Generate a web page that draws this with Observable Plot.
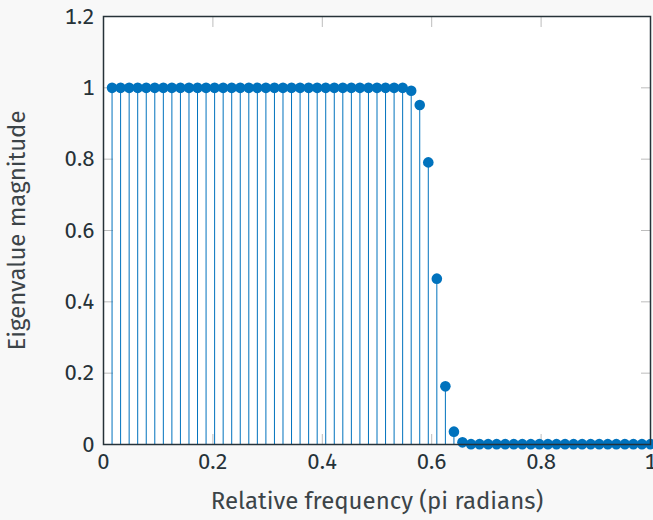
<!DOCTYPE html>
<html>
<head>
<meta charset="utf-8">
<script src="https://cdn.jsdelivr.net/npm/d3@7"></script>
<script src="https://cdn.jsdelivr.net/npm/@observablehq/plot@0.6"></script>
<style>
  html, body { margin: 0; padding: 0; background: #f8f8f8; }
</style>
</head>
<body>
<div id="chart"></div>
<script>
// Relative frequency (pi radians), bins 1..64 of 64
const frequency = [
  0.015625, 0.03125, 0.046875, 0.0625, 0.078125, 0.09375, 0.109375, 0.125,
  0.140625, 0.15625, 0.171875, 0.1875, 0.203125, 0.21875, 0.234375, 0.25,
  0.265625, 0.28125, 0.296875, 0.3125, 0.328125, 0.34375, 0.359375, 0.375,
  0.390625, 0.40625, 0.421875, 0.4375, 0.453125, 0.46875, 0.484375, 0.5,
  0.515625, 0.53125, 0.546875, 0.5625, 0.578125, 0.59375, 0.609375, 0.625,
  0.640625, 0.65625, 0.671875, 0.6875, 0.703125, 0.71875, 0.734375, 0.75,
  0.765625, 0.78125, 0.796875, 0.8125, 0.828125, 0.84375, 0.859375, 0.875,
  0.890625, 0.90625, 0.921875, 0.9375, 0.953125, 0.96875, 0.984375, 1.0
];
// Eigenvalue magnitude
const magnitude = [
  1, 1, 1, 1, 1, 1, 1, 1,
  1, 1, 1, 1, 1, 1, 1, 1,
  1, 1, 1, 1, 1, 1, 1, 1,
  1, 1, 1, 1, 1, 1, 1, 1,
  1, 1, 1, 0.992, 0.952, 0.791, 0.465, 0.163,
  0.036, 0.006, 0.001, 0.001, 0.001, 0.001, 0.001, 0.001,
  0.001, 0.001, 0.001, 0.001, 0.001, 0.001, 0.001, 0.001,
  0.001, 0.001, 0.001, 0.001, 0.001, 0.001, 0.001, 0.001
];
const xTicks = [0, 0.2, 0.4, 0.6, 0.8, 1];
const yTicks = [0, 0.2, 0.4, 0.6, 0.8, 1, 1.2];
const xInnerTicks = [0.2, 0.4, 0.6, 0.8];
const yInnerTicks = [0.2, 0.4, 0.6, 0.8, 1];

const data = frequency.map((f, i) => ({f, m: magnitude[i]}));

const blue = "#0072BD";
const ink = "#263238";
const labelInk = "#3c4448";
const tickGray = "#bdbdbd";
const fmt = d => String(d);

const chart = Plot.plot({
  width: 653,
  height: 520,
  marginLeft: 103,
  marginRight: 3,
  marginTop: 16,
  marginBottom: 76,
  style: {
    background: "#f8f8f8",
    fontFamily: "'Fira Sans', 'Open Sans', sans-serif",
    fontSize: "22px",
    color: ink,
    overflow: "visible"
  },
  x: {domain: [0, 1]},
  y: {domain: [0, 1.2]},
  marks: [
    Plot.frame({fill: "white", stroke: null}),
    Plot.axisX(xTicks, {anchor: "bottom", tickSize: 0, tickPadding: 9, tickFormat: fmt, fontSize: 22, fill: ink, label: null}),
    Plot.axisX({anchor: "bottom", ticks: [], tickSize: 0, fontSize: 24, fill: labelInk,
      label: "Relative frequency (pi radians)", labelAnchor: "center", labelArrow: "none", labelOffset: 64}),
    Plot.axisY(yTicks, {anchor: "left", tickSize: 0, tickPadding: 9, tickFormat: fmt, fontSize: 22, fill: ink, label: null}),
    Plot.axisY({anchor: "left", ticks: [], tickSize: 0, fontSize: 24, fill: labelInk,
      label: "Eigenvalue magnitude", labelAnchor: "center", labelArrow: "none", labelOffset: 96}),
    Plot.axisX(xInnerTicks, {anchor: "bottom", tickSize: -10, tickFormat: () => "", stroke: tickGray, label: null}),
    Plot.axisX(xInnerTicks, {anchor: "top", tickSize: -10, tickFormat: () => "", stroke: tickGray, label: null}),
    Plot.axisY(yInnerTicks, {anchor: "left", tickSize: -10, tickFormat: () => "", stroke: tickGray, label: null}),
    Plot.axisY(yInnerTicks, {anchor: "right", tickSize: -10, tickFormat: () => "", stroke: tickGray, label: null}),
    Plot.ruleX(data, {x: "f", y1: 0, y2: "m", stroke: blue, strokeWidth: 1}),
    Plot.dot(data, {x: "f", y: "m", r: 5.3, fill: blue, stroke: null}),
    Plot.frame({stroke: ink, strokeWidth: 1.5})
  ]
});
document.getElementById("chart").appendChild(chart);
</script>
</body>
</html>
